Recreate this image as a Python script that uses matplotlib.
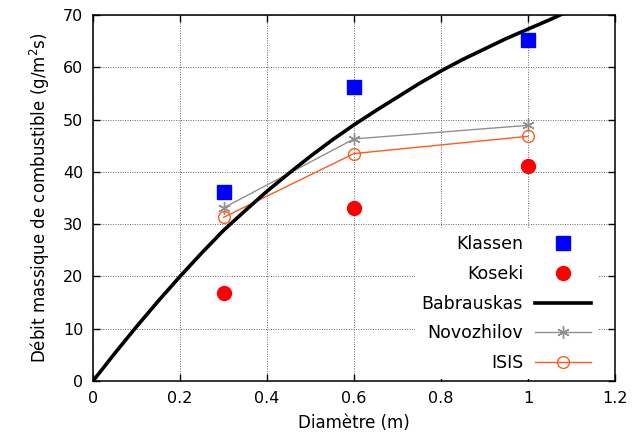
import matplotlib
matplotlib.use("Agg")
import matplotlib.pyplot as plt

plt.rcParams['font.family'] = ['DejaVu Sans']
plt.rcParams['mathtext.fontset'] = 'dejavusans'

# Data
diam = [0.3, 0.6, 1.0]
klassen = [36.2, 56.3, 65.3]
koseki = [16.9, 33.0, 41.2]
novozhilov = [33.1, 46.3, 48.9]
isis = [31.3, 43.5, 46.8]

babr_d = [0.0, 0.05, 0.1, 0.15, 0.2, 0.25, 0.3, 0.35, 0.4, 0.45, 0.5, 0.55,
          0.6, 0.65, 0.7, 0.75, 0.8, 0.85, 0.9, 0.95, 1.0, 1.05, 1.1]
babr_m = [0.0, 5.3, 10.4, 15.3, 20.0, 24.5, 28.8, 32.6, 36.3, 39.7, 43.0, 46.1,
          49.0, 51.7, 54.3, 56.9, 59.3, 61.5, 63.5, 65.5, 67.3, 69.1, 71.0]

xticks = [0, 0.2, 0.4, 0.6, 0.8, 1.0, 1.2]
xticklabels = ["0", "0.2", "0.4", "0.6", "0.8", "1", "1.2"]
yticks = [0, 10, 20, 30, 40, 50, 60, 70]

fig = plt.figure(figsize=(6.32, 4.44), dpi=100)
ax = fig.add_axes([0.1472, 0.1419, 0.8259, 0.8243])

ax.plot(diam, klassen, linestyle='none', marker='s', markersize=10.5,
        color='#0000ff', label='Klassen', zorder=5)
ax.plot(diam, koseki, linestyle='none', marker='o', markersize=10,
        color='#ff0000', label='Koseki', zorder=5)
ax.plot(babr_d, babr_m, color='black', lw=2.6, label='Babrauskas', zorder=4)
ax.plot(diam, novozhilov, color='#909090', lw=1.0, marker=(6, 2, 0),
        markersize=9, markeredgewidth=1.0, label='Novozhilov', zorder=3)
ax.plot(diam, isis, color='#ff5a1e', lw=1.0, marker='o', markersize=8.5,
        markerfacecolor='none', markeredgewidth=1.0, label='ISIS', zorder=3)

ax.set_xlim(0, 1.2)
ax.set_ylim(0, 70)
ax.set_xticks(xticks)
ax.set_xticklabels(xticklabels)
ax.set_yticks(yticks)
ax.tick_params(direction='in', length=5, width=1, top=True, right=True,
               labelsize=11.5, pad=7)
for s in ax.spines.values():
    s.set_linewidth(1.1)

ax.grid(True, color='0.4', linestyle=(0, (1, 1.5)), linewidth=0.7)
ax.set_axisbelow(True)

ax.set_xlabel('Diamètre (m)', fontsize=12, labelpad=6)
ax.set_ylabel('Débit massique de combustible (g/m$^2$s)', fontsize=12, labelpad=8)

leg = ax.legend(loc='lower right', bbox_to_anchor=(0.967, 0.005),
                markerfirst=False, frameon=True, fontsize=12.5,
                handlelength=3.2, handletextpad=0.7, labelspacing=0.68,
                borderaxespad=0, borderpad=0.4, numpoints=1, fancybox=False)
leg.get_frame().set_facecolor('white')
leg.get_frame().set_edgecolor('none')
leg.get_frame().set_alpha(1)
for t in leg.get_texts():
    t.set_ha('right')
leg._legend_box.align = 'right'

fig.savefig('out.png', dpi=100)
